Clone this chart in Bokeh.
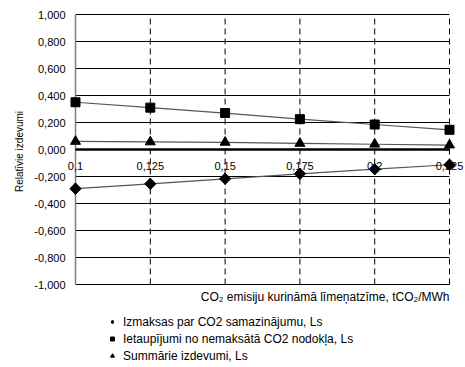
from bokeh.plotting import figure
from bokeh.models import Label, Legend, LegendItem, Range1d
from bokeh.core.properties import value
from bokeh.embed import file_html
from bokeh.resources import INLINE
import numpy as np

# ---- data ----
x_vals = [0.1, 0.125, 0.15, 0.175, 0.2, 0.225]
x_labels = ["0,1", "0,125", "0,15", "0,175", "0,2", "0,225"]
izmaksas = [-0.29, -0.254, -0.217, -0.18, -0.146, -0.113]
ietaupijumi = [0.35, 0.31, 0.27, 0.225, 0.185, 0.146]
summarie = [0.06, 0.056, 0.053, 0.045, 0.039, 0.033]
y_ticks = [-1.0, -0.8, -0.6, -0.4, -0.2, 0.0, 0.2, 0.4, 0.6, 0.8, 1.0]
y_labels = ["-1,000", "-0,800", "-0,600", "-0,400", "-0,200", "0,000",
            "0,200", "0,400", "0,600", "0,800", "1,000"]

series_names = ["Izmaksas par CO2 samazinājumu, Ls",
                "Ietaupījumi no nemaksātā CO2 nodokļa, Ls",
                "Summārie izdevumi, Ls"]
x_title = "CO₂ emisiju kurināmā līmeņatzīme, tCO₂/MWh"
y_title = "Relatīvie izdevumi"

FONT = "Liberation Sans"
W, H = 465, 366

px_x = (x_vals[-1] - x_vals[0]) / 374
px_y = (y_ticks[-1] - y_ticks[0]) / 270

p = figure(width=W, height=H, output_backend="svg", toolbar_location=None,
           x_range=Range1d(x_vals[0] - 75 * px_x, x_vals[-1] + 16 * px_x),
           y_range=Range1d(y_ticks[0] - (H - 284) * px_y, y_ticks[-1] + 14 * px_y),
           x_axis_location=None, y_axis_location=None, min_border=0)
p.outline_line_color = None
p.xgrid.visible = False
p.ygrid.visible = False

n_y = len(y_ticks)
# horizontal grid lines (solid)
p.segment(x0=[x_vals[0]] * n_y, x1=[x_vals[-1]] * n_y, y0=y_ticks, y1=y_ticks,
          line_color="black", line_width=1)
# vertical grid lines (dashed)
n_x = len(x_vals) - 1
p.segment(x0=x_vals[1:], x1=x_vals[1:], y0=[y_ticks[0]] * n_x,
          y1=[y_ticks[-1]] * n_x, line_color="black", line_width=1,
          line_dash="6 4")
# left axis line and zero line
p.segment(x0=[x_vals[0]], y0=[y_ticks[0]], x1=[x_vals[0]], y1=[y_ticks[-1]],
          line_color="#7f7f7f", line_width=1.5)
p.segment(x0=[x_vals[0]], y0=[0], x1=[x_vals[-1]], y1=[0],
          line_color="black", line_width=2.5)

# y tick labels and title
p.text(x=[x_vals[0]] * n_y, y=y_ticks, text=y_labels, text_align="right",
       text_baseline="middle", x_offset=-10, text_font=value(FONT),
       text_font_size="11px", text_color="black")
p.text(x=[x_vals[0]], y=[0], text=[y_title], angle=np.pi / 2,
       text_align="center", text_baseline="middle", x_offset=-56, y_offset=2,
       text_font=value(FONT), text_font_size="10px", text_color="black")

# series
line_col = "#555555"
p.line(x_vals, izmaksas, line_color=line_col, line_width=1.2)
p.line(x_vals, ietaupijumi, line_color=line_col, line_width=1.2)
p.line(x_vals, summarie, line_color=line_col, line_width=1.2)
# diamond glyph (gives the legend symbol), covered by the rotated squares
r1 = p.scatter(x_vals, izmaksas, marker="diamond", size=11,
               fill_color="black", line_color="black")
p.scatter(x_vals, izmaksas, marker="square", size=8, angle=np.pi / 4,
          fill_color="black", line_color="black")
r2 = p.scatter(x_vals, ietaupijumi, marker="square", size=9,
               fill_color="black", line_color="black")
r3 = p.scatter(x_vals, summarie, marker="triangle", size=10,
               fill_color="black", line_color="black")

# x tick labels at the zero line
p.text(x=x_vals, y=[0] * len(x_vals), text=x_labels, text_align="center",
       text_baseline="top", y_offset=12, text_font=value(FONT),
       text_font_size="11px", text_color="black")

# x axis title
p.add_layout(Label(x=x_vals[-1], y=y_ticks[0], y_offset=-12, text=x_title,
                   text_align="right", text_baseline="middle",
                   text_font=FONT, text_font_size="12px", text_color="black"))

legend = Legend(items=[LegendItem(label=series_names[0], renderers=[r1]),
                       LegendItem(label=series_names[1], renderers=[r2]),
                       LegendItem(label=series_names[2], renderers=[r3])],
                location=(107, 3), orientation="vertical",
                border_line_color=None, background_fill_alpha=0,
                padding=0, margin=0, spacing=2, glyph_width=10,
                glyph_height=15, label_height=15, label_standoff=6,
                label_text_font=FONT, label_text_font_size="12px",
                label_text_color="black")
p.add_layout(legend, "center")

open("out.html", "w").write(file_html(p, INLINE))
